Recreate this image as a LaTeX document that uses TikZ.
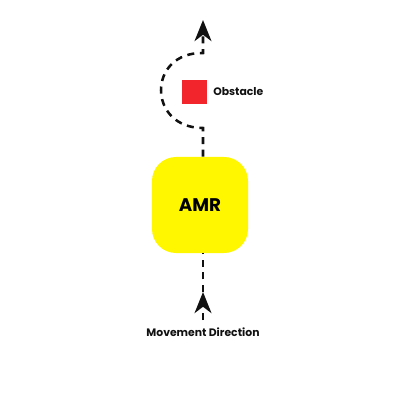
\documentclass[tikz,border=0pt]{standalone}
\usepackage{fontspec}
\setmainfont{Poppins}
\usetikzlibrary{arrows.meta, calc, positioning}
\definecolor{ink}{HTML}{111111}
\definecolor{amryel}{HTML}{FFF700}
\definecolor{obred}{HTML}{F2242C}
\tikzset{path/.style={ink,line width=1.8pt,dash pattern=on 5pt off 4pt},
  tip/.style={-{Stealth[length=15pt,width=12pt,inset=4.5pt]}},
  lbl/.style={ink,font=\bfseries\fontsize{7.7}{9}\selectfont}}
\begin{document}
\begin{tikzpicture}[x=0.025cm,y=-0.025cm]
  \useasboundingbox (0,0) rectangle (400,400);
  \node[fill=amryel,rounded corners=0.6cm,minimum size=2.4cm,inner sep=0pt,font=\bfseries\fontsize{13}{15}\selectfont] (amr) at (200,205) {AMR};
  \fill[obred] (182,80) rectangle (207,104);\coordinate (ob) at (207,92);
  \node[lbl,anchor=west,inner sep=0pt] (obl) at ($(ob)+(6,0)$) {Obstacle};
  \node[lbl,inner sep=0pt] (mv) at (203,332) {Movement Direction};
  \coordinate (t) at (203,320);\coordinate (m) at (203,292);
  \coordinate (s1) at (203,128);\coordinate (e1) at (203,53);\coordinate (h) at (203,20);
  % bottom: arrow midway
  \draw[path,tip] (t)--(m);
  \draw[path] (m)--(amr.south -| m);
  % top: detour round the obstacle
  \draw[path,tip] (amr.north -| s1)--(s1) .. controls (147,128) and (147,52) .. (e1)--(h);
\end{tikzpicture}
\end{document}
